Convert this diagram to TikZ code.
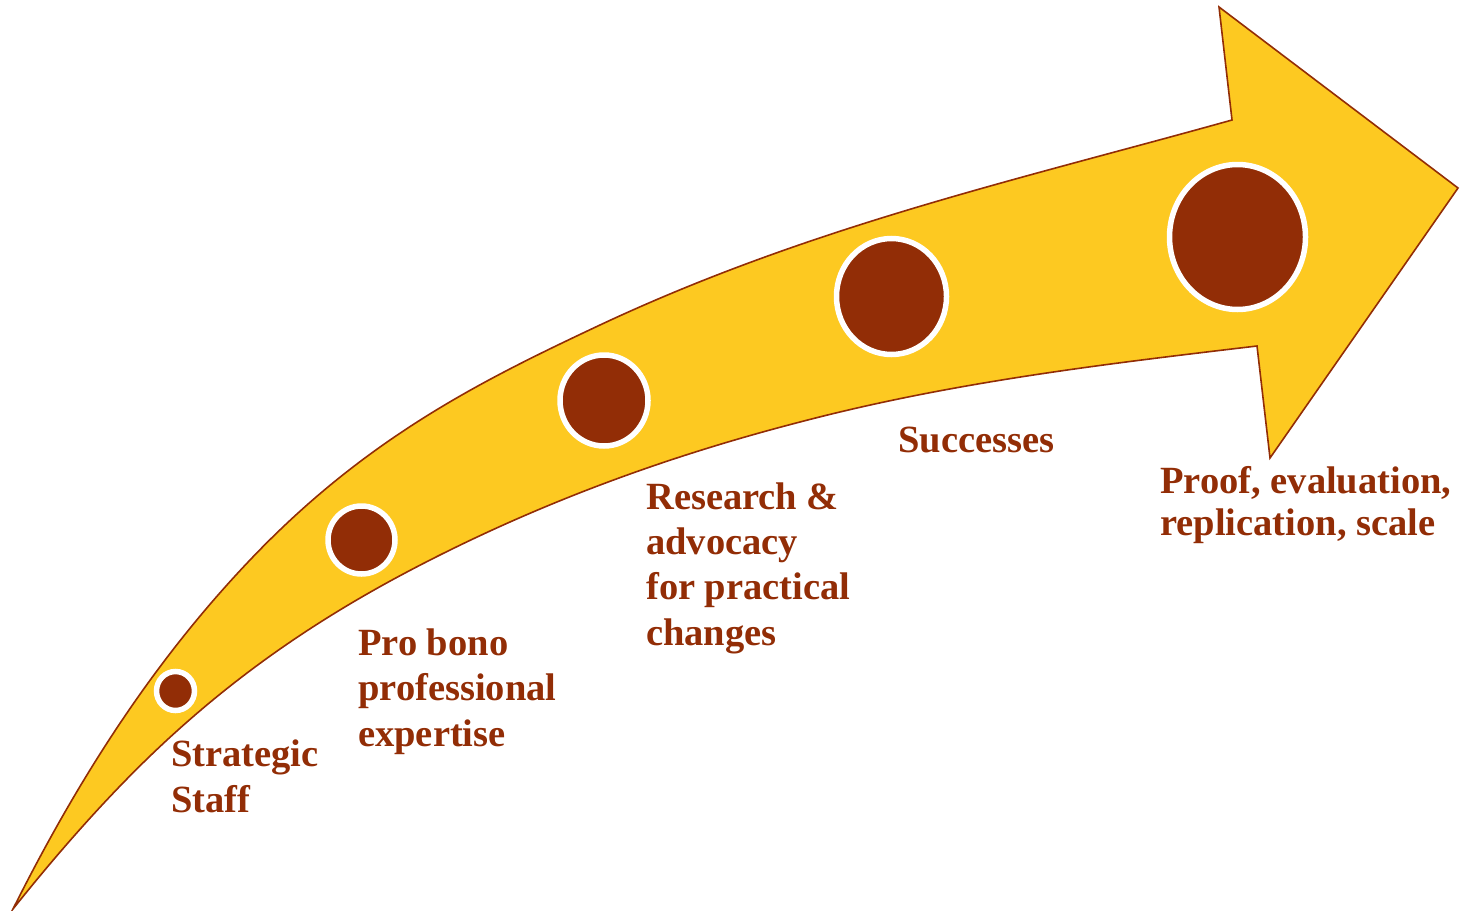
\documentclass[tikz,border=0pt]{standalone}
\usepackage{fontspec}
\setmainfont{Liberation Serif}
\usetikzlibrary{shapes.geometric}
\definecolor{arrowyellow}{HTML}{FDC921}
\definecolor{darkbrown}{HTML}{922D06}
\begin{document}
\begin{tikzpicture}[x=1pt,y=-1pt,
  arrowshape/.style={fill=arrowyellow, draw=darkbrown, line width=1.6pt, line join=miter},
  dot/.style={ellipse, draw=white, line width=5.5pt, fill=darkbrown, inner sep=0pt},
  lbl/.style={anchor=base west, align=left, text=darkbrown, inner sep=0pt,
    font=\fontsize{38.5}{45.3}\selectfont\bfseries}]
\useasboundingbox (0,0) rectangle (1471,910);
\draw[arrowshape] (13,909)
  .. controls (92,751) and (171,643) .. (250,560)
  .. controls (367,437) and (483,380) .. (600,325)
  .. controls (811,226) and (1021,179) .. (1232,120)
  -- (1219,7) -- (1458,188) -- (1270,458) -- (1257,346)
  .. controls (1105,364) and (952,382) .. (800,422)
  .. controls (680,453) and (560,495) .. (440,555)
  .. controls (349,600.5) and (258,656) .. (167,740)
  .. controls (116,787) and (64,845) .. (13,909) -- cycle;
\node[dot, minimum width=38pt, minimum height=39pt] (d1) at (175.5,691) {};
\node[dot, minimum width=67pt, minimum height=68pt] (d2) at (361.5,540) {};
\node[dot, minimum width=88pt, minimum height=91pt] (d3) at (604,400.5) {};
\node[dot, minimum width=110pt, minimum height=116pt] (d4) at (891.5,296.5) {};
\node[dot, minimum width=136pt, minimum height=145pt] (d5) at (1237.5,237) {};
\node[lbl] (t1) at (171,812) {Strategic\\Staff};
\node[lbl] (t2) at (358,746) {Pro bono\\professional\\expertise};
\node[lbl] (t3) at (646,645) {Research \&\\advocacy\\for practical\\changes};
\node[lbl] (t4) at (898,452) {Successes};
\node[lbl, font=\fontsize{38.5}{42}\selectfont\bfseries] (t5) at (1160,535) {Proof, evaluation,\\replication, scale};
\end{tikzpicture}
\end{document}
